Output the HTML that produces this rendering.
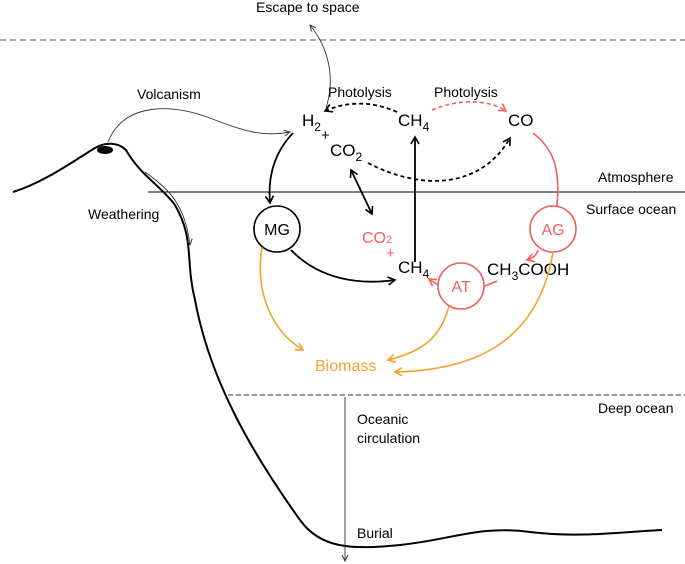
<!DOCTYPE html>
<html><head><style>
html,body{margin:0;padding:0;background:#fff;}
svg{display:block;font-family:"Liberation Sans",Arial,sans-serif;}
</style></head><body>
<svg width="685" height="564" viewBox="0 0 685 564">
<defs>
<marker id="ak" markerWidth="10" markerHeight="10" refX="8" refY="5" orient="auto" markerUnits="userSpaceOnUse"><path d="M1,1 L8,5 L1,9" fill="none" stroke="#000" stroke-width="1.6"/></marker>
<marker id="at" markerWidth="8" markerHeight="8" refX="7" refY="4" orient="auto" markerUnits="userSpaceOnUse"><path d="M1,1 L7,4 L1,7" fill="none" stroke="#333" stroke-width="1"/></marker>
<marker id="ar" markerWidth="10" markerHeight="10" refX="8" refY="5" orient="auto" markerUnits="userSpaceOnUse"><path d="M1,1 L8,5 L1,9" fill="none" stroke="#f06060" stroke-width="1.6"/></marker>
<marker id="ao" markerWidth="10" markerHeight="10" refX="8" refY="5" orient="auto" markerUnits="userSpaceOnUse"><path d="M1,1 L8,5 L1,9" fill="none" stroke="#f5a030" stroke-width="1.6"/></marker>
<marker id="aks" markerWidth="10" markerHeight="10" refX="2" refY="5" orient="auto" markerUnits="userSpaceOnUse"><path d="M9,1 L2,5 L9,9" fill="none" stroke="#000" stroke-width="1.6"/></marker>
</defs>
<!-- layer lines -->
<line x1="0" y1="40" x2="685" y2="40" stroke="#777" stroke-width="1.2" stroke-dasharray="6,4"/>
<line x1="148" y1="192" x2="685" y2="192" stroke="#000" stroke-width="1"/>
<line x1="228" y1="395" x2="685" y2="395" stroke="#333" stroke-width="1" stroke-dasharray="5,3"/>
<!-- terrain -->
<path d="M13,192 C45,182 75,160 95,148 C105,142 118,142 126,150 C140,175 160,185 175,205 C195,240 185,260 195,300 C210,380 250,450 300,520 C320,548 350,550 400,545 C450,540 480,525 530,532 C580,538 620,532 662,530" fill="none" stroke="#000" stroke-width="2"/>
<ellipse cx="105" cy="150" rx="8" ry="4" fill="#000"/>
<!-- weathering -->
<path d="M145,172 C170,190 185,205 190,245" fill="none" stroke="#333" stroke-width="0.9" marker-end="url(#at)"/>
<!-- volcanism -->
<path d="M108,142 C125,100 175,105 210,118 C245,132 265,137 290,132" fill="none" stroke="#333" stroke-width="0.9" marker-end="url(#at)"/>
<!-- escape -->
<path d="M326,108 C335,80 330,50 310,25" fill="none" stroke="#333" stroke-width="0.9" marker-end="url(#at)"/>
<!-- texts -->
<g font-size="14" fill="#000">
<text x="256" y="12">Escape to space</text>
<text x="137" y="99">Volcanism</text>
<text x="88" y="219">Weathering</text>
<text x="328" y="97">Photolysis</text>
<text x="434" y="97">Photolysis</text>
<text x="598" y="182">Atmosphere</text>
<text x="586" y="214">Surface ocean</text>
<text x="598" y="413">Deep ocean</text>
<text x="357" y="424">Oceanic</text>
<text x="357" y="443">circulation</text>
<text x="357" y="538">Burial</text>
</g>
<g font-size="17" fill="#000">
<text x="302" y="126">H<tspan font-size="12" dy="5">2</tspan></text>
<text x="321" y="140" font-size="15">+</text>
<text x="330" y="156">CO<tspan font-size="12" dy="5">2</tspan></text>
<text x="398" y="126">CH<tspan font-size="12" dy="5">4</tspan></text>
<text x="508" y="126">CO</text>
<text x="398" y="273">CH<tspan font-size="12" dy="5">4</tspan></text>
<text x="487" y="275">CH<tspan font-size="12" dy="5">3</tspan><tspan dy="-5">COOH</tspan></text>
</g>
<text x="362" y="243" font-size="16" fill="#f06060">CO<tspan font-size="11">2</tspan></text>
<text x="386" y="258" font-size="15" fill="#f06060">+</text>
<text x="315" y="371" font-size="16" fill="#f5a030">Biomass</text>
<!-- circles -->
<circle cx="277" cy="229" r="23" fill="none" stroke="#000" stroke-width="1.6"/>
<text x="277" y="235" font-size="16" text-anchor="middle">MG</text>
<circle cx="553" cy="229" r="23" fill="none" stroke="#f06060" stroke-width="1.6"/>
<text x="553" y="235" font-size="16" text-anchor="middle" fill="#f06060">AG</text>
<circle cx="461" cy="286" r="23" fill="none" stroke="#f06060" stroke-width="1.6"/>
<text x="461" y="292" font-size="16" text-anchor="middle" fill="#f06060">AT</text>
<!-- arrows black -->
<path d="M293,133 C272,155 268,180 270,203" fill="none" stroke="#000" stroke-width="1.8" marker-end="url(#ak)"/>
<path d="M291,250 C320,280 360,285 395,280" fill="none" stroke="#000" stroke-width="1.8" marker-end="url(#ak)"/>
<line x1="415" y1="262" x2="415" y2="137" stroke="#000" stroke-width="1.8" marker-end="url(#ak)"/>
<line x1="351" y1="170" x2="372" y2="214" stroke="#000" stroke-width="1.8" marker-start="url(#aks)" marker-end="url(#ak)"/>
<path d="M397,112 C370,100 345,102 325,111" fill="none" stroke="#000" stroke-width="1.8" stroke-dasharray="4,3" marker-end="url(#ak)"/>
<path d="M368,163 C420,190 480,190 510,138" fill="none" stroke="#000" stroke-width="1.8" stroke-dasharray="4,3" marker-end="url(#ak)"/>
<!-- red -->
<path d="M432,110 C460,98 490,100 506,111" fill="none" stroke="#f06060" stroke-width="1.6" stroke-dasharray="4,3" marker-end="url(#ar)"/>
<path d="M533,133 C555,150 560,170 557,206" fill="none" stroke="#f06060" stroke-width="1.6"/>
<path d="M538,250 C536,256 533,258 527,260" fill="none" stroke="#f06060" stroke-width="1.6" marker-end="url(#ar)"/>
<line x1="497" y1="281" x2="485" y2="286" stroke="#f06060" stroke-width="1.6"/>
<line x1="438" y1="285" x2="429" y2="279" stroke="#f06060" stroke-width="1.6" marker-end="url(#ar)"/>
<!-- orange -->
<path d="M262,247 C255,290 270,330 303,350" fill="none" stroke="#f5a030" stroke-width="1.6" marker-end="url(#ao)"/>
<path d="M449,306 C440,340 420,352 388,360" fill="none" stroke="#f5a030" stroke-width="1.6" marker-end="url(#ao)"/>
<path d="M553,252 C540,330 490,370 395,372" fill="none" stroke="#f5a030" stroke-width="1.6" marker-end="url(#ao)"/>
<!-- oceanic vertical -->
<line x1="345" y1="397" x2="345" y2="561" stroke="#333" stroke-width="0.9" marker-end="url(#at)"/>
</svg>
</body></html>
